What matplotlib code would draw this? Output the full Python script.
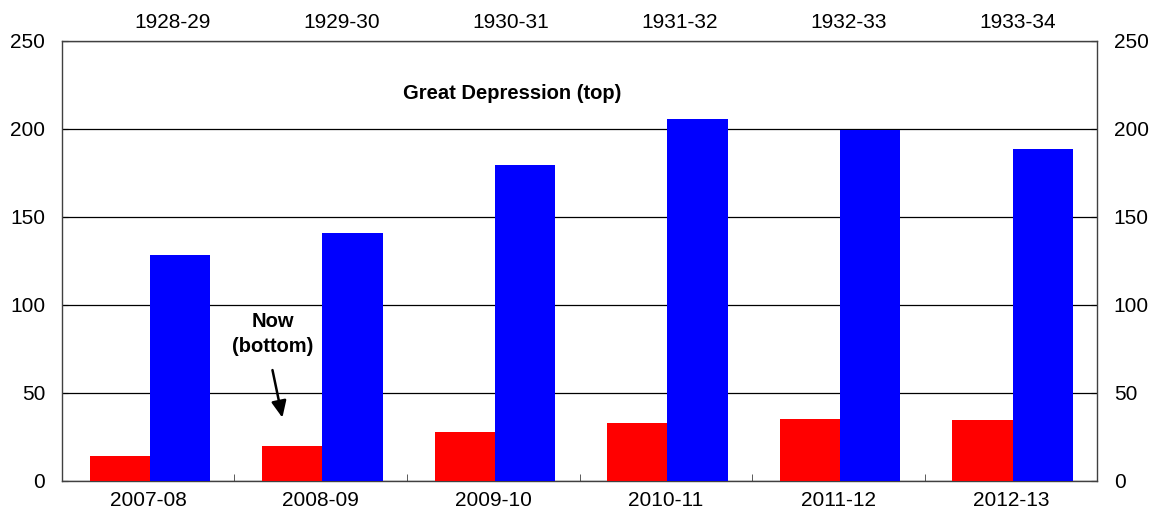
import numpy as np
import matplotlib
matplotlib.use('Agg')
import matplotlib.pyplot as plt

plt.rcParams['font.family'] = ['Liberation Sans', 'DejaVu Sans']

# datos
anios_ahora = ['2007-08', '2008-09', '2009-10', '2010-11', '2011-12', '2012-13']
anios_depresion = ['1928-29', '1929-30', '1930-31', '1931-32', '1932-33', '1933-34']
ahora = [14.0, 20.1, 27.7, 32.8, 35.0, 34.4]
depresion = [128.2, 140.7, 179.4, 205.5, 199.3, 188.3]

x = np.arange(len(anios_ahora))
ancho = 0.35

fig = plt.figure(figsize=(11.56, 5.2), dpi=100)
ax = fig.add_axes([0.0536, 0.075, 0.8954, 0.847])

ax.bar(x - ancho / 2 + 0.01, ahora, ancho, color='#FF0000', zorder=3)
ax.bar(x + ancho / 2 + 0.01, depresion, ancho, color='#0000FF', zorder=3)

ax.set_xlim(-0.5, len(x) - 0.5)
ax.set_ylim(0, 250)
ax.set_yticks(np.arange(0, 251, 50))
ax.yaxis.grid(True, color='black', linewidth=0.9)
ax.set_axisbelow(True)

# eje x inferior: etiquetas centradas, marcas en los limites de categoria
ax.set_xticks(x)
ax.set_xticklabels(anios_ahora, fontsize=15)
ax.tick_params(axis='x', which='major', length=0, pad=7)
ax.set_xticks(np.arange(0.5, len(x) - 1, 1), minor=True)
ax.tick_params(axis='x', which='minor', direction='in', length=5, color='#404040')

ax.tick_params(axis='y', labelsize=15, direction='in', length=4,
               left=True, right=True, labelleft=True, labelright=True, pad=12)

for s in ax.spines.values():
    s.set_color('#404040')
    s.set_linewidth(1.0)

# eje superior con los anios de la Gran Depresion
sec = ax.secondary_xaxis('top')
sec.set_xticks(x * 0.98 + 0.14)
sec.set_xticklabels(anios_depresion, fontsize=15)
sec.tick_params(length=0, pad=6)
sec.spines['top'].set_visible(False)

ax.text(2.11, 220, 'Great Depression (top)', ha='center', va='center',
        fontsize=14.5, fontweight='bold')
ax.text(0.72, 83.5, 'Now\n(bottom)', ha='center', va='center',
        fontsize=14.5, fontweight='bold', linespacing=1.45)
ax.annotate('', xy=(0.781, 34.4), xytext=(0.717, 64.5),
            arrowprops=dict(arrowstyle='-|>,head_length=1.0,head_width=0.45',
                            color='black', lw=1.8))

plt.savefig('out.png', dpi=100)
